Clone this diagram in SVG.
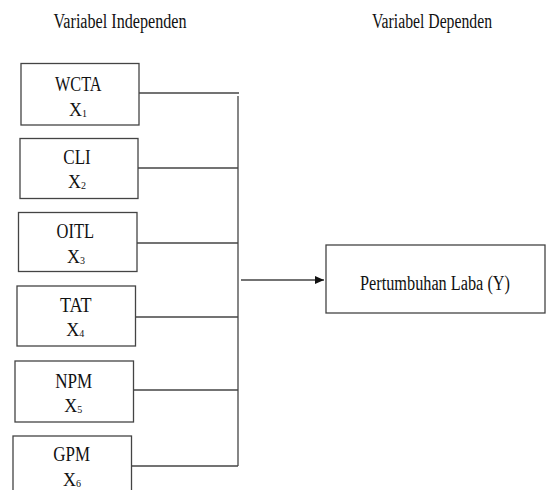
<svg xmlns="http://www.w3.org/2000/svg" width="546" height="490" viewBox="0 0 546 490" font-family="Liberation Serif" font-size="20" text-anchor="middle">
<style>
.box{fill:#fff;stroke:#444;stroke-width:1.3}
.ln{stroke:#444;stroke-width:1.3;fill:none}
.x{font-size:18px}
</style>
<defs>
<marker id="ah" markerWidth="10" markerHeight="10" refX="9" refY="5" orient="auto" markerUnits="userSpaceOnUse">
<path d="M0,1 L9,5 L0,9 Z" fill="#111"/>
</marker>
</defs>
<rect width="546" height="490" fill="#fff"/>
<g fill="#111">
<text x="120" y="28" textLength="133" lengthAdjust="spacingAndGlyphs">Variabel Independen</text>
<text x="432" y="28" textLength="120" lengthAdjust="spacingAndGlyphs">Variabel Dependen</text>
</g>
<g id="connectors">
<line class="ln" x1="139" y1="93" x2="239" y2="93"/>
<line class="ln" x1="238" y1="96" x2="238" y2="466"/>
<line class="ln" x1="138" y1="168" x2="238" y2="168"/>
<line class="ln" x1="137" y1="243" x2="238" y2="243"/>
<line class="ln" x1="136" y1="317" x2="238" y2="317"/>
<line class="ln" x1="134" y1="390" x2="238" y2="390"/>
<line class="ln" x1="132" y1="466" x2="238" y2="466"/>
<line class="ln" x1="241" y1="280" x2="324" y2="280" stroke="#111" marker-end="url(#ah)"/>
</g>
<g id="wcta" fill="#111">
<rect class="box" x="21" y="63.5" width="118" height="61.5"/>
<text x="78.3" y="90.7" textLength="46.5" lengthAdjust="spacingAndGlyphs">WCTA</text>
<text class="x" x="78" y="115.5">X<tspan font-size="10" dy="1">1</tspan></text>
</g>
<g id="cli" fill="#111">
<rect class="box" x="20" y="138.5" width="118" height="60"/>
<text x="77" y="164" textLength="27.5" lengthAdjust="spacingAndGlyphs">CLI</text>
<text class="x" x="77" y="188">X<tspan font-size="10" dy="1">2</tspan></text>
</g>
<g id="oitl" fill="#111">
<rect class="box" x="18.5" y="212.5" width="118.5" height="59"/>
<text x="75.3" y="238.3" textLength="37.5" lengthAdjust="spacingAndGlyphs">OITL</text>
<text class="x" x="76" y="262.7">X<tspan font-size="10" dy="1">3</tspan></text>
</g>
<g id="tat" fill="#111">
<rect class="box" x="17" y="286" width="118.5" height="60"/>
<text x="75.8" y="311.7" textLength="31.7" lengthAdjust="spacingAndGlyphs">TAT</text>
<text class="x" x="75.3" y="336">X<tspan font-size="10" dy="1">4</tspan></text>
</g>
<g id="npm" fill="#111">
<rect class="box" x="15" y="361" width="118.5" height="61"/>
<text x="73.7" y="387.7" textLength="37" lengthAdjust="spacingAndGlyphs">NPM</text>
<text class="x" x="73.3" y="411.7">X<tspan font-size="10" dy="1">5</tspan></text>
</g>
<g id="gpm" fill="#111">
<rect class="box" x="13" y="436" width="118.5" height="60"/>
<text x="71.7" y="460.7" textLength="36.7" lengthAdjust="spacingAndGlyphs">GPM</text>
<text class="x" x="72" y="485.7">X<tspan font-size="10" dy="1">6</tspan></text>
</g>
<g id="pertumbuhan" fill="#111">
<rect class="box" x="326" y="245" width="219" height="68"/>
<text x="435" y="289.5" textLength="150" lengthAdjust="spacingAndGlyphs">Pertumbuhan Laba (Y)</text>
</g>
</svg>
